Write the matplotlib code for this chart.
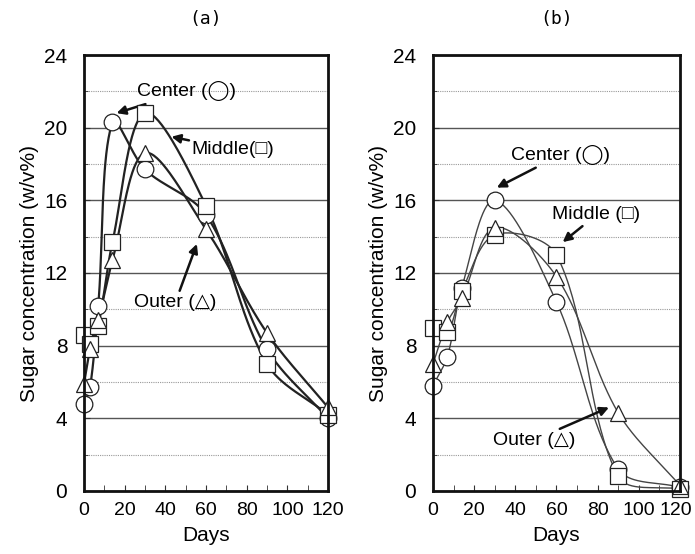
import numpy as np
import matplotlib
matplotlib.use("Agg")
import matplotlib.pyplot as plt
from matplotlib.ticker import MultipleLocator
from matplotlib.transforms import ScaledTranslation

FONT = ["Liberation Sans", "DejaVu Sans"]
plt.rcParams["font.family"] = FONT

# Storage days and sugar concentration (w/v%) at each position
days_a = [0, 3, 7, 14, 30, 60, 90, 120]
center_a = [4.8, 5.7, 10.2, 20.3, 17.7, 15.2, 7.8, 4.0]
middle_a = [8.6, 8.1, 9.1, 13.7, 20.8, 15.7, 7.0, 4.2]
outer_a = [5.9, 7.8, 9.4, 12.7, 18.6, 14.4, 8.7, 4.6]

days_b = [0, 7, 14, 30, 60, 90, 120]
center_b = [5.8, 7.4, 11.2, 16.0, 10.4, 1.2, 0.2]
middle_b = [9.0, 8.75, 11.0, 14.1, 13.0, 0.8, 0.1]
outer_b = [7.0, 9.3, 10.6, 14.5, 11.8, 4.3, 0.3]

x_ticks = [0, 20, 40, 60, 80, 100, 120]
y_ticks = [0, 4, 8, 12, 16, 20, 24]


def smooth(x, y, sx, sy, n=40):
    """Chord-scaled Bezier smoothing through the points, in screen units."""
    P = np.column_stack([np.asarray(x, float) * sx, np.asarray(y, float) * sy])
    m = len(P)
    d = np.hypot(*np.diff(P, axis=0).T)
    T = np.zeros_like(P)
    for i in range(m):
        if i == 0:
            T[i] = (P[1] - P[0]) / d[0]
        elif i == m - 1:
            T[i] = (P[-1] - P[-2]) / d[-1]
        else:
            T[i] = (P[i + 1] - P[i - 1]) / (d[i - 1] + d[i])
    out = []
    for i in range(m - 1):
        p1, p2 = P[i], P[i + 1]
        c1 = p1 + T[i] * d[i] / 3.0
        c2 = p2 - T[i + 1] * d[i] / 3.0
        t = np.linspace(0, 1, n)[:, None]
        seg = ((1 - t) ** 3) * p1 + 3 * ((1 - t) ** 2) * t * c1 + 3 * (1 - t) * t ** 2 * c2 + t ** 3 * p2
        out.append(seg if i == 0 else seg[1:])
    S = np.vstack(out)
    return S[:, 0] / sx, S[:, 1] / sy


fig = plt.figure(figsize=(6.95, 5.54), dpi=100)
ax_a = fig.add_axes([84 / 695, 63 / 554, 244 / 695, 436 / 554])
ax_b = fig.add_axes([433 / 695, 63 / 554, 247 / 695, 436 / 554])

series_a = [(center_a, "o"), (middle_a, "s"), (outer_a, "^")]
series_b = [(center_b, "o"), (middle_b, "s"), (outer_b, "^")]

for ax, days, series, lw, lc, title in [
    (ax_a, days_a, series_a, 1.6, "#222222", "(a)"),
    (ax_b, days_b, series_b, 1.0, "#444444", "(b)"),
]:
    ax.set_xlim(0, 120)
    ax.set_ylim(0, 24)
    sx = 244 / 120.0
    sy = 436 / 24.0
    for vals, mk in series:
        xs, ys = smooth(days, vals, sx, sy)
        ax.plot(xs, ys, color=lc, lw=lw, zorder=3, clip_on=False)
    for vals, mk in series:
        ms = 12 if mk != "s" else 11
        ax.plot(days, vals, linestyle="none", marker=mk, ms=ms, mfc="white",
                mec="#222222", mew=0.9, zorder=4, clip_on=False)
    ax.set_xticks(x_ticks)
    ax.set_yticks(y_ticks)
    ax.xaxis.set_minor_locator(MultipleLocator(10))
    ax.yaxis.set_minor_locator(MultipleLocator(2))
    ax.grid(True, axis="y", which="major", color="#555555", lw=1.0, zorder=1)
    ax.grid(True, axis="y", which="minor", color="#999999", lw=0.8, ls=(0, (1, 1)), zorder=1)
    ax.tick_params(axis="both", which="both", direction="in", top=False, right=False,
                   color="#333333")
    ax.tick_params(axis="y", which="major", length=4, pad=12, labelsize=15)
    ax.tick_params(axis="y", which="minor", length=3)
    ax.tick_params(axis="x", which="both", length=4, pad=8, labelsize=14)
    for sp in ax.spines.values():
        sp.set_linewidth(2.0)
        sp.set_color("#111111")
        sp.set_zorder(5)
    ax.set_xlabel("Days", fontsize=15, labelpad=5)
    ax.set_ylabel("Sugar concentration (w/v%)", fontsize=15, labelpad=4)
    ax.set_title(title, fontsize=13, pad=22, family=["DejaVu Sans Mono", "DejaVu Sans"])

# nudge the last day label of the right panel so it stays inside the figure
last = ax_b.get_xticklabels()[-1]
last.set_transform(last.get_transform() + ScaledTranslation(-4 / 100, 0, fig.dpi_scale_trans))

arrow = dict(arrowstyle="-|>", color="#111111", lw=1.8, mutation_scale=13, shrinkA=0, shrinkB=0)

ax_a.annotate("Center (◯)", xy=(16, 20.8), xytext=(26, 22.0), fontsize=14,
              ha="left", va="center", arrowprops=arrow)
ax_a.annotate("Middle(□)", xy=(43, 19.5), xytext=(53, 18.8), fontsize=14,
              ha="left", va="center", arrowprops=arrow)
ax_a.annotate("Outer (△)", xy=(55.5, 13.6), xytext=(45, 10.4), fontsize=14,
              ha="center", va="center", arrowprops=arrow)

ax_b.annotate("Center (◯)", xy=(31, 16.7), xytext=(38, 18.5), fontsize=14,
              ha="left", va="center", arrowprops=arrow)
ax_b.annotate("Middle (□)", xy=(63, 13.7), xytext=(58, 15.2), fontsize=14,
              ha="left", va="center", arrowprops=arrow)
ax_b.annotate("Outer (△)", xy=(85.5, 4.6), xytext=(49, 2.8), fontsize=14,
              ha="center", va="center", arrowprops=arrow)

fig.savefig("out.png", dpi=100)
